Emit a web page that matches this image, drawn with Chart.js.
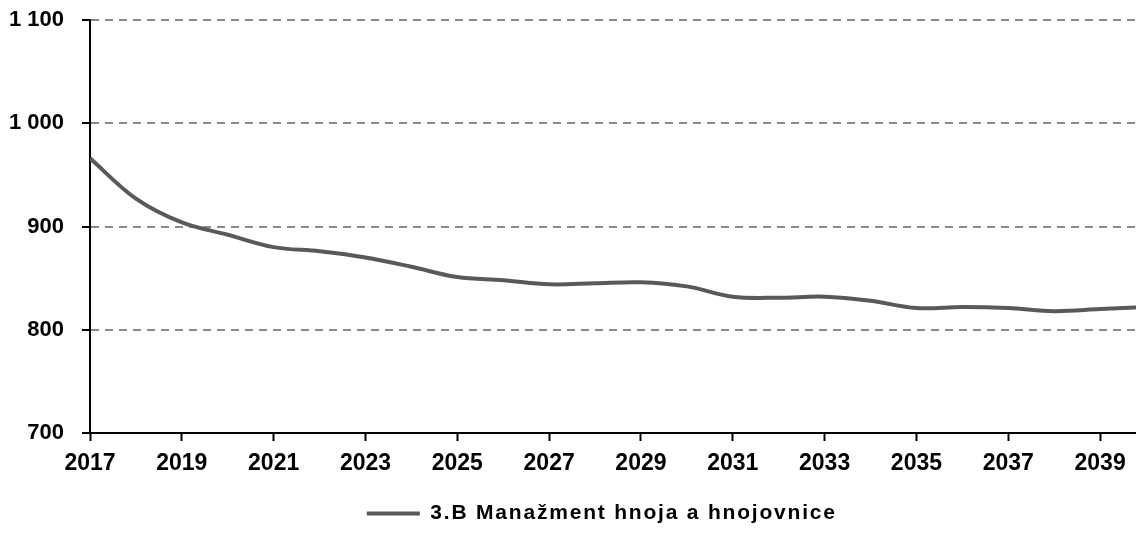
<!DOCTYPE html>
<html>
<head>
<meta charset="utf-8">
<script src="https://cdn.jsdelivr.net/npm/chart.js@4"></script>
<style>
  html, body { margin: 0; padding: 0; background: #fff; overflow: hidden; }
  #wrap { width: 1136px; height: 534px; overflow: hidden; }
</style>
</head>
<body>
<div id="wrap"><canvas id="myChart" width="1146" height="534"></canvas></div>
<script>
const years = [2017, 2018, 2019, 2020, 2021, 2022, 2023, 2024, 2025, 2026, 2027, 2028,
  2029, 2030, 2031, 2032, 2033, 2034, 2035, 2036, 2037, 2038, 2039, 2040];
const manure = [966, 927, 904, 892, 880, 876, 870, 861, 851, 848, 844, 845,
  846, 842, 832, 831, 832, 828, 821, 822, 821, 818, 820, 822];
const xTicks = [2017, 2019, 2021, 2023, 2025, 2027, 2029, 2031, 2033, 2035, 2037, 2039];
const yTicks = [700, 800, 900, 1000, 1100];
const seriesName = "3.B Manažment hnoja a hnojovnice";

Chart.defaults.font.family = "'Liberation Sans', Arial, sans-serif";
Chart.defaults.font.weight = "bold";
Chart.defaults.color = "#000";

// thousands separated by a space, like "1 100"
const fmt = (v) => v >= 1000 ? Math.floor(v / 1000) + " " + String(v % 1000).padStart(3, "0") : String(v);

// Excel spreads the legend text a little, canvas letterSpacing does the same
const legendSpacing = {
  id: "legendSpacing",
  beforeDraw(chart) {
    const legend = chart.legend;
    if (!legend || legend._spaced) return;
    const draw = legend.draw.bind(legend);
    legend.draw = function (area) {
      chart.ctx.save();
      chart.ctx.letterSpacing = "1.8px";
      draw(area);
      chart.ctx.restore();
    };
    legend._spaced = true;
  },
};

const ctx = document.getElementById("myChart").getContext("2d");

const chart = new Chart(ctx, {
  type: "line",
  data: {
    datasets: [
      {
        label: seriesName,
        data: years.map((y, i) => ({ x: y, y: manure[i] })),
        borderColor: "#595959",
        backgroundColor: "#595959",
        borderWidth: 4,
        tension: 0.35,
        pointRadius: 0,
        fill: false,
      },
    ],
  },
  options: {
    responsive: false,
    animation: false,
    layout: { padding: { top: 20, right: 0, bottom: 0, left: 0 } },
    plugins: {
      tooltip: { enabled: false },
      legend: {
        position: "bottom",
        labels: {
          usePointStyle: true,
          pointStyle: "line",
          pointStyleWidth: 53,
          color: "#000",
          padding: 4,
          font: { size: 21, weight: "bold" },
        },
      },
    },
    scales: {
      x: {
        type: "linear",
        min: 2017,
        max: 2040,
        afterBuildTicks: (scale) => { scale.ticks = xTicks.map((v) => ({ value: v })); },
        afterFit: (scale) => { scale.height = 66; },
        grid: {
          drawOnChartArea: false,
          tickLength: 8,
          tickColor: "#000",
          tickWidth: 2,
        },
        border: { color: "#000", width: 2 },
        ticks: {
          padding: 9,
          autoSkip: false,
          maxRotation: 0,
          color: "#000",
          font: { size: 23, weight: "bold" },
          callback: (v) => String(v),
        },
      },
      y: {
        min: 700,
        max: 1100,
        afterBuildTicks: (scale) => { scale.ticks = yTicks.map((v) => ({ value: v })); },
        afterFit: (scale) => {
          scale.width = 90;
          scale.paddingTop = 12;
          scale.paddingBottom = 12;
        },
        grid: {
          color: "#8a8a8a",
          lineWidth: 2,
          tickLength: 8,
          tickColor: "#000",
          tickWidth: 2,
        },
        border: { color: "#000", width: 2, dash: [8, 6] },
        ticks: {
          padding: 18,
          color: "#000",
          font: { size: 22, weight: "bold" },
          callback: (v) => fmt(v),
        },
      },
    },
  },
  plugins: [legendSpacing],
});
</script>
</body>
</html>
